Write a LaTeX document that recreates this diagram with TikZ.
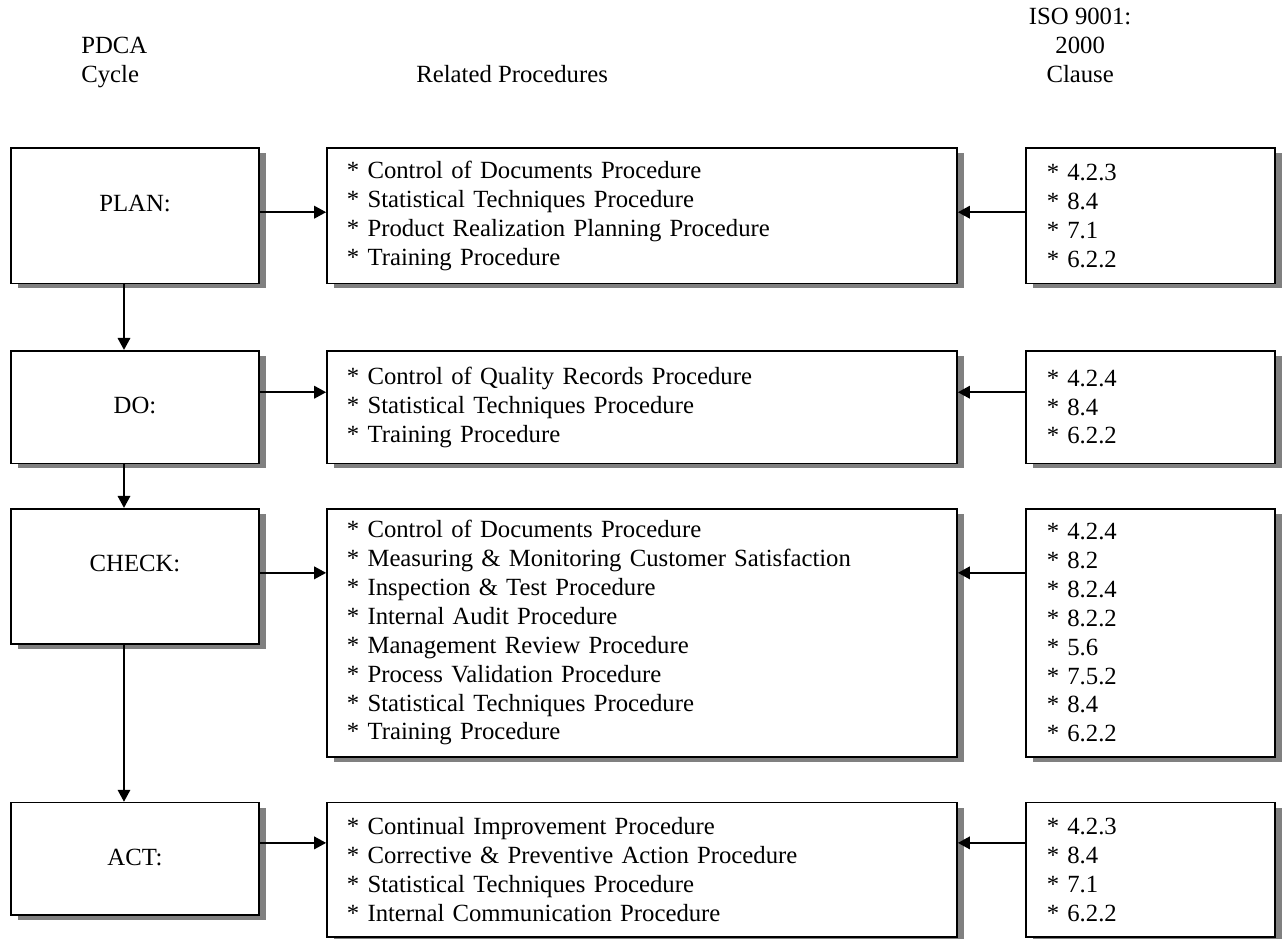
\documentclass[tikz,border=0pt]{standalone}
\usepackage{fontspec}
\setmainfont{Liberation Serif}
\usepackage{tikz}
\usetikzlibrary{arrows.meta, shadows}
\definecolor{PDCAShadow}{RGB}{128, 128, 128}

\tikzset{
  pdcabox/.style={draw=black, line width=0.8pt, fill=white, rectangle,
    drop shadow={shadow xshift=1.2mm, shadow yshift=-0.85mm, fill=PDCAShadow, opacity=1}},
  phasebox/.style={pdcabox, anchor=north, minimum width=41.6mm, inner xsep=0pt, inner ysep=0pt,
    text height=10.6mm, text depth=#1},
  procbox/.style={pdcabox, anchor=north, text width=99mm, inner xsep=3.35mm, inner ysep=0pt,
    minimum height=#1, align=left},
  clausebox/.style={pdcabox, anchor=north, text width=34.8mm, inner xsep=3.5mm, inner ysep=0pt,
    minimum height=#1, align=left},
  pdcaarrow/.style={line width=0.8pt, -{Triangle[length=2mm, width=2.1mm]}}
}

\begin{document}
\begin{tikzpicture}[x=1mm,y=1mm, every node/.style={font=\fontsize{11.8}{13.8}\selectfont}]
  \path[use as bounding box] (0,0) rectangle (215.9,157.4);

  \node[anchor=west, align=left] (pdcahead) at (12.4,146.9) {PDCA\\Cycle};
  \node[anchor=west] (prochead) at (68.6,145.0) {Related Procedures};
  \node[align=center] (isohead) at (181.2,149.85) {ISO 9001:\\2000\\Clause};

  \node[phasebox=12.1mm] (phplan) at (22.65,132.7) {PLAN:};
  \node[phasebox=8.3mm] (phdo) at (22.65,98.7) {DO:};
  \node[phasebox=12.1mm] (phcheck) at (22.65,72.2) {CHECK:};
  \node[phasebox=8.3mm] (phact) at (22.65,22.9) {ACT:};

  \node[procbox=22.7mm] (procplan) at (107.7,132.7) {
    {*} Control of Documents Procedure\\
    {*} Statistical Techniques Procedure\\
    {*} Product Realization Planning Procedure\\
    {*} Training Procedure};
  \node[procbox=18.9mm] (procdo) at (107.7,98.7) {
    {*} Control of Quality Records Procedure\\
    {*} Statistical Techniques Procedure\\
    {*} Training Procedure};
  \node[procbox=41.6mm] (proccheck) at (107.7,72.2) {
    {*} Control of Documents Procedure\\
    {*} Measuring \& Monitoring Customer Satisfaction\\
    {*} Inspection \& Test Procedure\\
    {*} Internal Audit Procedure\\
    {*} Management Review Procedure\\
    {*} Process Validation Procedure\\
    {*} Statistical Techniques Procedure\\
    {*} Training Procedure};
  \node[procbox=22.5mm] (procact) at (107.7,22.9) {
    {*} Continual Improvement Procedure\\
    {*} Corrective \& Preventive Action Procedure\\
    {*} Statistical Techniques Procedure\\
    {*} Internal Communication Procedure};

  \node[clausebox=22.7mm] (isoplan) at (193.0,132.7) {{*} 4.2.3\\{*} 8.4\\{*} 7.1\\{*} 6.2.2};
  \node[clausebox=18.9mm] (isodo) at (193.0,98.7) {{*} 4.2.4\\{*} 8.4\\{*} 6.2.2};
  \node[clausebox=41.6mm] (isocheck) at (193.0,72.2) {{*} 4.2.4\\{*} 8.2\\{*} 8.2.4\\{*} 8.2.2\\{*} 5.6\\{*} 7.5.2\\{*} 8.4\\{*} 6.2.2};
  \node[clausebox=22.5mm] (isoact) at (193.0,22.9) {{*} 4.2.3\\{*} 8.4\\{*} 7.1\\{*} 6.2.2};

  \draw[pdcaarrow] (phplan.east |- 0,121.8) -- (procplan.west |- 0,121.8);
  \draw[pdcaarrow] (phdo.east |- 0,91.6) -- (procdo.west |- 0,91.6);
  \draw[pdcaarrow] (phcheck.east |- 0,61.3) -- (proccheck.west |- 0,61.3);
  \draw[pdcaarrow] (phact.east |- 0,16.0) -- (procact.west |- 0,16.0);

  \draw[pdcaarrow] (isoplan.west |- 0,121.8) -- (procplan.east |- 0,121.8);
  \draw[pdcaarrow] (isodo.west |- 0,91.6) -- (procdo.east |- 0,91.6);
  \draw[pdcaarrow] (isocheck.west |- 0,61.3) -- (proccheck.east |- 0,61.3);
  \draw[pdcaarrow] (isoact.west |- 0,16.0) -- (procact.east |- 0,16.0);

  \draw[pdcaarrow] (phplan.south -| 20.8,0) -- (phdo.north -| 20.8,0);
  \draw[pdcaarrow] (phdo.south -| 20.8,0) -- (phcheck.north -| 20.8,0);
  \draw[pdcaarrow] (phcheck.south -| 20.8,0) -- (phact.north -| 20.8,0);
\end{tikzpicture}
\end{document}
